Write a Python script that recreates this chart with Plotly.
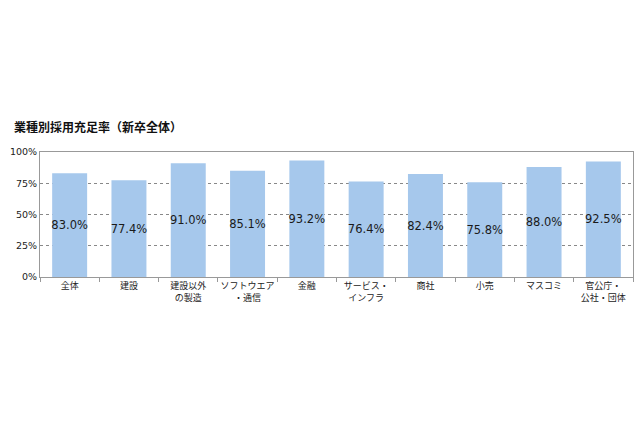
import plotly.graph_objects as go

categories = ["全体", "建設", "建設以外<br>の製造", "ソフトウエア<br>・通信", "金融",
              "サービス・<br>インフラ", "商社", "小売", "マスコミ", "官公庁・<br>公社・団体"]
values = [83.0, 77.4, 91.0, 85.1, 93.2, 76.4, 82.4, 75.8, 88.0, 92.5]
labels = [f"{v:.1f}%" for v in values]
y_ticks = [0, 25, 50, 75, 100]
y_tick_text = ["0%", "25%", "50%", "75%", "100%"]

font_jp = "Noto Sans CJK JP, sans-serif"

fig = go.Figure(go.Bar(
    x=categories, y=values, text=labels,
    textposition="inside", insidetextanchor="middle", constraintext="none",
    textfont=dict(family="DejaVu Sans, sans-serif", size=11.5, color="#1a1a1a"),
    marker=dict(color="#A6C8EC", line=dict(width=0)),
    textangle=0,
))

fig.update_layout(
    width=640, height=426,
    margin=dict(l=40, r=7, t=152, b=149),
    paper_bgcolor="white", plot_bgcolor="white",
    bargap=0.41,
    showlegend=False,
    font=dict(family=font_jp, size=10, color="#222"),
    title=dict(text="<b>業種別採用充足率（新卒全体）</b>", x=0.022, xanchor="left",
               y=0.7, yanchor="middle", font=dict(family=font_jp, size=12, color="#111")),
)
fig.update_xaxes(
    type="category", tickson="boundaries", ticks="outside", ticklen=4, tickcolor="#999",
    tickangle=0,
    showline=True, linecolor="#999", linewidth=1, mirror=True,
    tickfont=dict(family=font_jp, size=9, color="#222"),
)
fig.update_yaxes(
    range=[0, 100], tickvals=y_ticks, ticktext=y_tick_text,
    showgrid=True, gridcolor="#888", griddash="dot", gridwidth=1,
    showline=True, linecolor="#999", linewidth=1, mirror=True,
    tickfont=dict(family="DejaVu Sans, sans-serif", size=9.5, color="#222"),
    ticks="", zeroline=False,
)

fig.write_html("out.html")
